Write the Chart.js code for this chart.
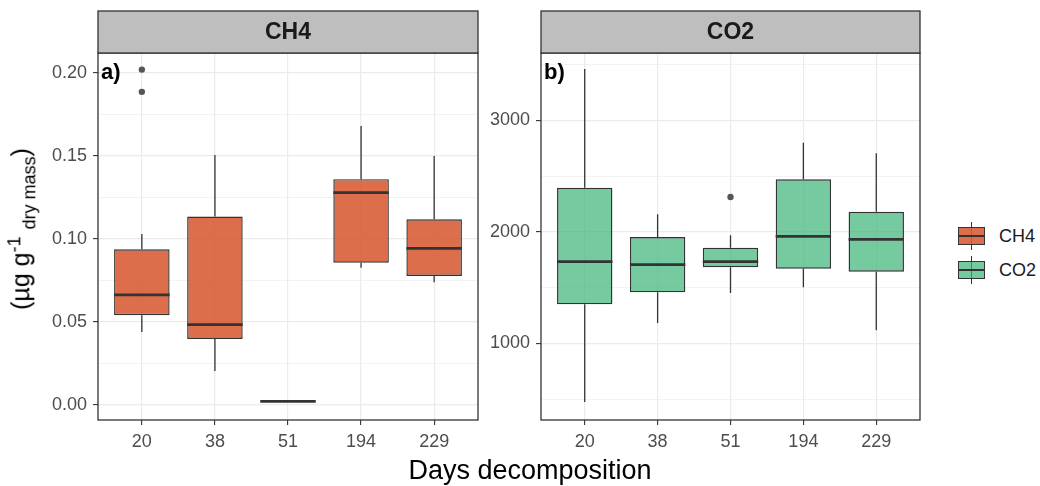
<!DOCTYPE html>
<html>
<head>
<meta charset="utf-8">
<script src="https://cdn.jsdelivr.net/npm/chart.js@4"></script>
<style>
body { margin: 0; background: #fff; width: 1040px; height: 486px; position: relative; overflow: hidden; font-family: "Liberation Sans", Arial, sans-serif; }
canvas { position: absolute; top: 0; }
#ytitle { position: absolute; left: 22px; top: 229px; transform: translate(-50%, -50%) rotate(-90deg); white-space: nowrap; font-size: 25px; color: #000; line-height: 1; }
#ytitle sup { font-size: 18px; }
#ytitle sub { font-size: 18px; }
#xtitle { position: absolute; left: 530px; top: 470px; transform: translate(-50%, -50%); white-space: nowrap; font-size: 27px; color: #000; }
.wh { position: absolute; left: 971px; width: 1.3px; height: 28px; background: #333; }
.key { position: absolute; left: 958px; width: 27px; height: 18px; border: 1.4px solid #333; box-sizing: border-box; }
.key::before { content: ''; position: absolute; left: 0; right: 0; top: 6.5px; height: 2px; background: #333; }
.lab { position: absolute; left: 999px; font-size: 18px; color: #1a1a1a; transform: translateY(-50%); }
</style>
</head>
<body>
<canvas id="ch4" width="482" height="486" style="left:0"></canvas>
<canvas id="co2" width="442" height="486" style="left:482px"></canvas>
<div id="ytitle">(µg g<sup>-1</sup> <sub>dry mass</sub>)</div>
<div id="xtitle">Days decomposition</div>
<div class="wh" style="top:222px"></div>
<div class="key" style="top:227px;background:rgba(215,90,50,0.88)"></div>
<div class="lab" style="top:236px">CH4</div>
<div class="wh" style="top:256px"></div>
<div class="key" style="top:261px;background:rgba(60,180,120,0.7)"></div>
<div class="lab" style="top:270px">CO2</div>
<script>
const days = ['20', '38', '51', '194', '229'];

const ch4Min = [0.0438, 0.0203, 0.002, 0.0825, 0.0737];
const ch4Q1 = [0.0539, 0.0396, 0.002, 0.0855, 0.0775];
const ch4Med = [0.0661, 0.0482, 0.002, 0.1277, 0.0942];
const ch4Q3 = [0.0936, 0.1133, 0.002, 0.1358, 0.1117];
const ch4Max = [0.1028, 0.1504, 0.002, 0.1679, 0.1498];
const ch4OutDay = ['20', '20'];
const ch4OutVal = [0.2018, 0.1884];
const ch4Ticks = [0, 0.05, 0.10, 0.15, 0.20];

const co2Min = [473, 1181, 1451, 1502, 1117];
const co2Q1 = [1350, 1457, 1682, 1669, 1642];
const co2Med = [1732, 1705, 1732, 1960, 1933];
const co2Q3 = [2395, 1953, 1857, 2471, 2180];
const co2Max = [3460, 2157, 1969, 2799, 2704];
const co2OutDay = ['51'];
const co2OutVal = [2312];
const co2Ticks = [1000, 2000, 3000];

const tickFont = { family: 'Liberation Sans', size: 18 };

function makePanel(id, p) {
    const pos = days.map((d, i) => i + 1);
    const step = p.ticks[1] - p.ticks[0];
    let all = [];
    p.ticks.forEach(t => { all.push(t - step / 2); all.push(t) });
    all.push(p.ticks[p.ticks.length - 1] + step / 2);
    all = all.filter(v => v >= p.yMin && v <= p.yMax);
    const isMajor = v => p.ticks.some(t => Math.abs(t - v) < step * 0.01);

    const panelPlugin = {
        id: 'panel_' + id,
        afterDatasetsDraw(chart) {
            const c = chart.ctx;
            const y = chart.scales.y;
            const bars = chart.getDatasetMeta(0).data;
            c.save();
            c.strokeStyle = '#333';
            bars.forEach((b, i) => {
                c.lineWidth = 1.3;
                c.beginPath();
                c.moveTo(b.x, y.getPixelForValue(p.q3[i]));
                c.lineTo(b.x, y.getPixelForValue(p.max[i]));
                c.moveTo(b.x, y.getPixelForValue(p.q1[i]));
                c.lineTo(b.x, y.getPixelForValue(p.min[i]));
                c.stroke();
                c.lineWidth = 2.8;
                const ym = y.getPixelForValue(p.med[i]);
                c.beginPath();
                c.moveTo(b.x - b.width / 2, ym);
                c.lineTo(b.x + b.width / 2, ym);
                c.stroke();
            });
            c.restore();
        },
        afterDraw(chart) {
            const c = chart.ctx;
            const a = chart.chartArea;
            c.save();
            c.strokeStyle = '#333';
            c.lineWidth = 1.3;
            c.strokeRect(a.left, a.top, a.right - a.left, a.bottom - a.top);
            c.fillStyle = '#BEBEBE';
            c.fillRect(a.left, 11, a.right - a.left, a.top - 11);
            c.strokeRect(a.left, 11, a.right - a.left, a.top - 11);
            c.fillStyle = '#1a1a1a';
            c.font = 'bold 23px "Liberation Sans"';
            c.textAlign = 'center';
            c.textBaseline = 'middle';
            c.fillText(p.name, (a.left + a.right) / 2, (11 + a.top) / 2 + 1);
            c.fillStyle = '#000';
            c.font = 'bold 22px "Liberation Sans"';
            c.textAlign = 'left';
            c.fillText(p.letter, a.left + 3, a.top + 20);
            c.restore();
        }
    };

    new Chart(document.getElementById(id), {
        type: 'bar',
        data: {
            datasets: [{
                type: 'bar',
                data: pos.map((x, i) => ({ x: x, y: [p.q1[i], p.q3[i]] })),
                backgroundColor: p.fill,
                borderColor: '#333',
                borderWidth: 1.4,
                borderSkipped: false,
                barPercentage: 0.76,
                categoryPercentage: 1,
                order: 2
            },
            {
                type: 'scatter',
                data: p.outDay.map((d, i) => ({ x: days.indexOf(d) + 1, y: p.outVal[i] })),
                pointRadius: 3.2,
                backgroundColor: '#555',
                borderWidth: 0,
                order: 1
            }]
        },
        options: {
            responsive: false,
            animation: false,
            layout: { padding: { top: 53, right: p.padRight, left: 0, bottom: 0 } },
            plugins: { legend: { display: false }, tooltip: { enabled: false } },
            scales: {
                x: {
                    type: 'linear',
                    offset: false,
                    min: 0.4,
                    max: 5.6,
                    afterBuildTicks: s => { s.ticks = pos.map(v => ({ value: v })) },
                    afterFit: s => { s.height = 66 },
                    ticks: {
                        autoSkip: false,
                        maxRotation: 0,
                        font: tickFont,
                        color: '#4D4D4D',
                        padding: 6,
                        callback: v => days[Math.round(v) - 1]
                    },
                    grid: { offset: false, color: '#EBEBEB', lineWidth: 1.2, tickColor: '#333', tickLength: 5, tickWidth: 1.1 },
                    border: { display: false }
                },
                y: {
                    min: p.yMin,
                    max: p.yMax,
                    afterBuildTicks: s => { s.ticks = all.map(v => ({ value: v })) },
                    afterFit: s => { s.width = p.yWidth },
                    ticks: {
                        autoSkip: false,
                        font: tickFont,
                        color: '#4D4D4D',
                        padding: 6,
                        callback: v => isMajor(v) ? p.fmt(v) : ''
                    },
                    grid: {
                        color: '#EBEBEB',
                        lineWidth: ctx => (ctx.tick && isMajor(ctx.tick.value)) ? 1.2 : 0.6,
                        tickColor: ctx => (ctx.tick && isMajor(ctx.tick.value)) ? '#333' : 'rgba(0,0,0,0)',
                        tickLength: 5,
                        tickWidth: 1.1
                    },
                    border: { display: false }
                }
            }
        },
        plugins: [panelPlugin]
    });
}

makePanel('ch4', {
    name: 'CH4', letter: 'a)',
    min: ch4Min, q1: ch4Q1, med: ch4Med, q3: ch4Q3, max: ch4Max,
    outDay: ch4OutDay, outVal: ch4OutVal,
    ticks: ch4Ticks, yMin: -0.0092, yMax: 0.2118,
    fmt: v => v.toFixed(2),
    fill: 'rgba(215,90,50,0.88)',
    yWidth: 98, padRight: 3
});

makePanel('co2', {
    name: 'CO2', letter: 'b)',
    min: co2Min, q1: co2Q1, med: co2Med, q3: co2Q3, max: co2Max,
    outDay: co2OutDay, outVal: co2OutVal,
    ticks: co2Ticks, yMin: 312, yMax: 3604,
    fmt: v => String(Math.round(v)),
    fill: 'rgba(60,180,120,0.7)',
    yWidth: 59, padRight: 2
});
</script>
</body>
</html>
